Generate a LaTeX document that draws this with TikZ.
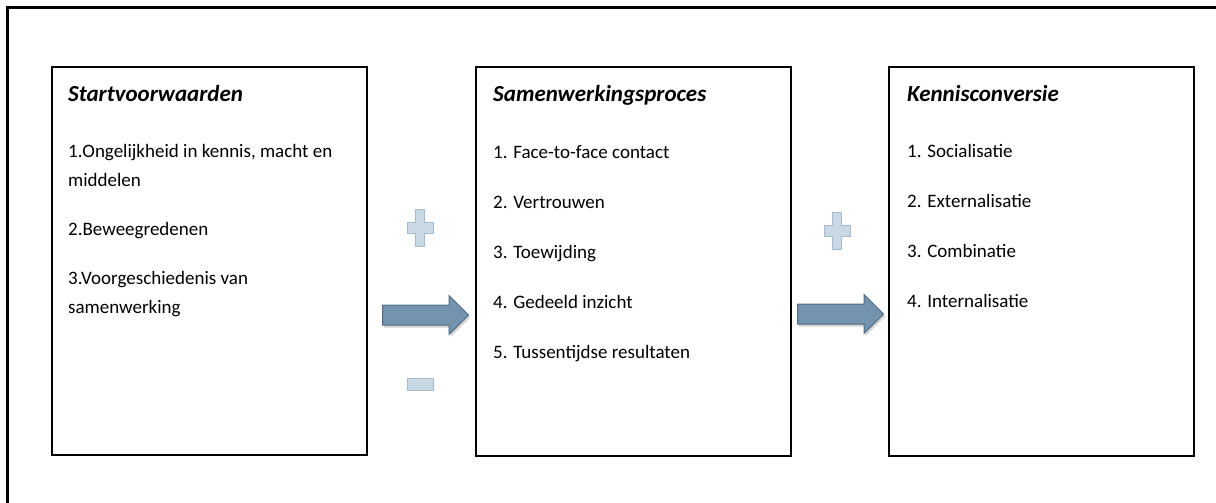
\documentclass[tikz,border=0pt]{standalone}
\usepackage{fontspec}
\setmainfont{Carlito}
\usetikzlibrary{shapes.arrows,shadows}
\definecolor{arrowBlue}{HTML}{7393AE}
\definecolor{arrowEdge}{HTML}{4F6B82}
\definecolor{signFill}{HTML}{CAD8E4}
\definecolor{signEdge}{HTML}{A6BBCD}

\tikzset{
  panel/.style={draw=black,line width=2.2pt,inner sep=0pt},
  title/.style={anchor=base west,inner sep=0pt,font=\fontsize{23}{27}\selectfont\bfseries\itshape},
  item/.style={anchor=base west,inner sep=0pt,font=\fontsize{19}{23}\selectfont},
  bigarrow/.style={single arrow,draw=arrowEdge,fill=arrowBlue,line width=1pt,
    inner xsep=0pt,inner ysep=9.5pt,minimum height=86pt,single arrow head extend=9.5pt,
    drop shadow={opacity=0.35,shadow xshift=1.5pt,shadow yshift=-2.5pt}},
  sign/.style={draw=signEdge,fill=signFill,line width=1pt}
}

\begin{document}
\begin{tikzpicture}[x=1pt,y=-1pt]
  \useasboundingbox (0,0) rectangle (1216,503);
  % frame (only left and top edge visible)
  \draw[line width=2.5pt,line join=miter] (7.5,510) -- (7.5,7.5) -- (1222,7.5);

  % the three panels
  \node[panel,minimum width=315pt,minimum height=388pt] (start) at (209.5,261) {};
  \node[panel,minimum width=315pt,minimum height=389pt] (proces) at (633.5,261.5) {};
  \node[panel,minimum width=305pt,minimum height=389pt] (conversie) at (1041.5,261.5) {};

  % panel 1
  \node[title] (st) at (68,102) {Startvoorwaarden};
  \node[item] (st1a) at (68,157) {1.Ongelijkheid in kennis, macht en};
  \node[item] (st1b) at (68,186) {middelen};
  \node[item] (st2) at (68,235) {2.Beweegredenen};
  \node[item] (st3a) at (68,284) {3.Voorgeschiedenis van};
  \node[item] (st3b) at (68,313) {samenwerking};

  % panel 2
  \node[title] (pr) at (493,102) {Samenwerkingsproces};
  \foreach \t [count=\i] in {Face-to-face contact,Vertrouwen,Toewijding,Gedeeld inzicht,Tussentijdse resultaten}
    \node[item] (pr\i) at (493,108+50*\i) {\i. \t};

  % panel 3
  \node[title] (kc) at (907,102) {Kennisconversie};
  \foreach \t [count=\i] in {Socialisatie,Externalisatie,Combinatie,Internalisatie}
    \node[item] (kc\i) at (907,107+50*\i) {\i. \t};

  % block arrows
  \node[bigarrow] (a1) at (420.5,315) {};
  \node[bigarrow] (a2) at (835.5,314) {};

  % plus and minus signs
  \draw[sign,shift={(420,228)}] (-4.5,-18.5) -- (4.5,-18.5) -- (4.5,-5.5) -- (13,-5.5) -- (13,5.5) -- (4.5,5.5)
    -- (4.5,18.5) -- (-4.5,18.5) -- (-4.5,5.5) -- (-13,5.5) -- (-13,-5.5) -- (-4.5,-5.5) -- cycle;
  \draw[sign] (407,378) rectangle (433,390);
  \draw[sign,shift={(837,231)}] (-4.5,-18.5) -- (4.5,-18.5) -- (4.5,-5.5) -- (13,-5.5) -- (13,5.5) -- (4.5,5.5)
    -- (4.5,18.5) -- (-4.5,18.5) -- (-4.5,5.5) -- (-13,5.5) -- (-13,-5.5) -- (-4.5,-5.5) -- cycle;
\end{tikzpicture}
\end{document}
